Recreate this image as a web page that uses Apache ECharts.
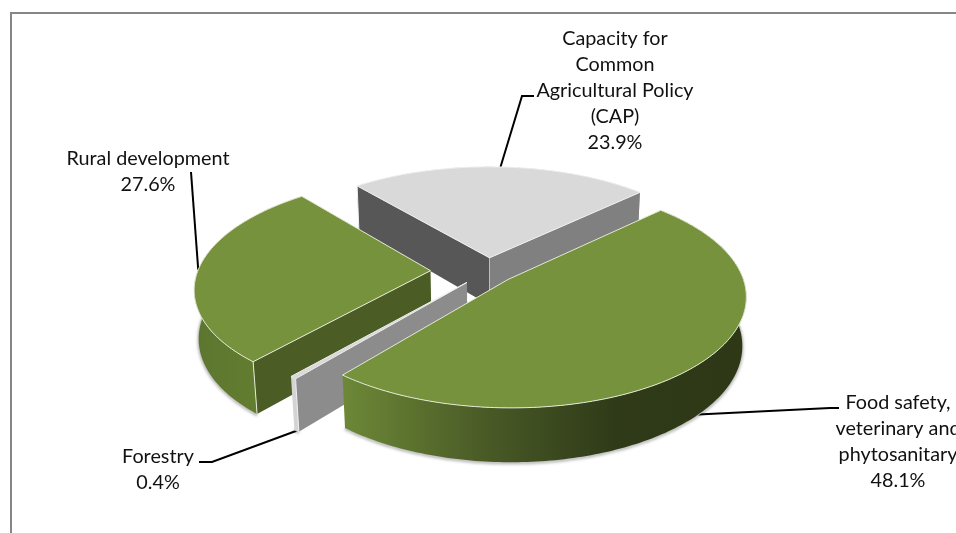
<!DOCTYPE html>
<html><head><meta charset="utf-8">
<style>html,body{margin:0;padding:0;background:#fff}#c{width:956px;height:533px;overflow:hidden}</style>
<script src="https://cdn.jsdelivr.net/npm/echarts@6/dist/echarts.min.js"></script>
</head><body><div id="c"></div>
<script>
const sliceNames = ['Food safety,\nveterinary and\nphytosanitary', 'Forestry', 'Rural development', 'Capacity for\nCommon\nAgricultural Policy\n(CAP)'];
const sliceShares = [48.1, 0.4, 27.6, 23.9];

// Perspective of the pie plane
const view = {cx:487.95, cy:270.89, R:232.72, k:0.4616, a:0.1426, H:48.91, b:0.0153, start:46.21};
const explode = [0.1163, 0.1378, 0.2468, 0.1239];

const hGrad = stops => ({type:'linear',x:0,y:0,x2:1,y2:0,colorStops:stops});
const looks = [
  {top:'#76923c', edge:'#e3e9d5', start:'#6f8a38', end:'#6f8a38',
   rim:hGrad([{offset:0,color:'#6d8837'},{offset:.38,color:'#475725'},{offset:.68,color:'#2f3a18'},{offset:1,color:'#2e3816'}])},
  {top:'#d9d9d9', edge:'#f0f0f0', start:'#8c8c8c', end:'#8c8c8c', rim:'#d4d4d4'},
  {top:'#76923c', edge:'#e3e9d5', start:'#4b5c24', end:'#4b5c24',
   rim:hGrad([{offset:0,color:'#5c7630'},{offset:1,color:'#67832f'}])},
  {top:'#d9d9d9', edge:'#f0f0f0', start:'#575757', end:'#808080', rim:'#a6a6a6'}
];
const labelPlaces = [
  {x:898, y:403, side:1, path:[[830,408],[839,408]]},
  {x:158, y:457, side:1, path:[[212,462],[199,462]]},
  {x:148, y:159, side:0, path:[[191,172]]},
  {x:615, y:39,  side:0, path:[[522,96],[534,96]]}
];
const labelFont = '19.8px Lato';
const lineGap = 26;

const total = sliceShares.reduce((a,b)=>a+b,0);
const spans = [];
sliceShares.reduce((c,v)=>{const d=c+v/total*360;spans.push([c,d]);return d;}, view.start);

function project(i,deg,r,Z){
  const s=spans[i], mid=(s[0]+s[1])/2*Math.PI/180, t=deg*Math.PI/180, e=explode[i];
  const X=r*Math.sin(t)+e*Math.sin(mid), Y=r*Math.cos(t)+e*Math.cos(mid), w=1+view.a*Y+view.b*Z;
  return [view.cx+view.R*X/w, view.cy+(-view.R*view.k*Y+view.H*Z)/w];
}
function arc(i,Z){
  const s=spans[i], n=Math.max(2,Math.ceil(s[1]-s[0])), out=[];
  for(let j=0;j<=n;j++) out.push(project(i,s[0]+(s[1]-s[0])*j/n,1,Z));
  return out;
}
const turn=(A,B,C)=>(B[0]-A[0])*(C[1]-B[1])-(B[1]-A[1])*(C[0]-B[0]);

function drawSlice(params,api){
  const i=api.value(0), s=spans[i], c=looks[i], kids=[];
  const ap0=project(i,0,0,0), ap1=project(i,0,0,1);
  kids.push({type:'polyline',shape:{points:arc(i,1)},
    style:{stroke:'#c4c4c0',lineWidth:1.5,fill:null,shadowColor:'rgba(0,0,0,.5)',shadowBlur:3,shadowOffsetY:1}});
  kids.push({type:'polygon',shape:{points:arc(i,0).concat(arc(i,1).reverse())},style:{fill:c.rim}});
  const a=project(i,s[0],1,0), b=project(i,s[0],1,1);
  if(turn(ap0,a,b)<0){
    kids.push({type:'polygon',shape:{points:[ap0,a,b,ap1]},style:{fill:c.start}});
    kids.push({type:'line',shape:{x1:a[0],y1:a[1],x2:b[0],y2:b[1]},style:{stroke:c.edge,lineWidth:1}});
  }
  const a2=project(i,s[1],1,0), b2=project(i,s[1],1,1);
  if(turn(ap0,a2,b2)>0){
    kids.push({type:'polygon',shape:{points:[ap0,a2,b2,ap1]},style:{fill:c.end}});
  }
  if(turn(ap0,a,b)<0 && turn(ap0,a2,b2)>0){
    kids.push({type:'line',shape:{x1:ap0[0],y1:ap0[1],x2:ap1[0],y2:ap1[1]},style:{stroke:'#bdbdbd',lineWidth:1}});
  }
  kids.push({type:'polygon',shape:{points:[ap0].concat(arc(i,0))},style:{fill:c.top,stroke:c.edge,lineWidth:1}});
  return {type:'group',children:kids};
}
function drawLabel(params,api){
  const i=api.value(0), s=spans[i], p=labelPlaces[i], mid=(s[0]+s[1])/2, kids=[];
  const anchor=project(i,mid,1,p.side);
  kids.push({type:'polyline',shape:{points:[anchor].concat(p.path)},style:{stroke:'#000',lineWidth:2,fill:null}});
  sliceNames[i].split('\n').concat(sliceShares[i].toFixed(1)+'%').forEach((t,j)=>{
    kids.push({type:'text',style:{text:t,x:p.x,y:p.y+j*lineGap,align:'center',verticalAlign:'middle',font:labelFont,fill:'#111'}});
  });
  return {type:'group',children:kids};
}
const chart=echarts.init(document.getElementById('c'),null,{renderer:'canvas'});
chart.setOption({animation:false,
  graphic:[{type:'polyline',shape:{points:[[11,533],[11,13],[956,13]]},style:{stroke:'#868686',lineWidth:2,fill:null}}],
  series:[
    {type:'custom',coordinateSystem:'none',data:[[3],[2],[1],[0]],renderItem:drawSlice,silent:true,z:2},
    {type:'custom',coordinateSystem:'none',data:[[0],[1],[2],[3]],renderItem:drawLabel,silent:true,z:1}
  ]});
</script></body></html>
